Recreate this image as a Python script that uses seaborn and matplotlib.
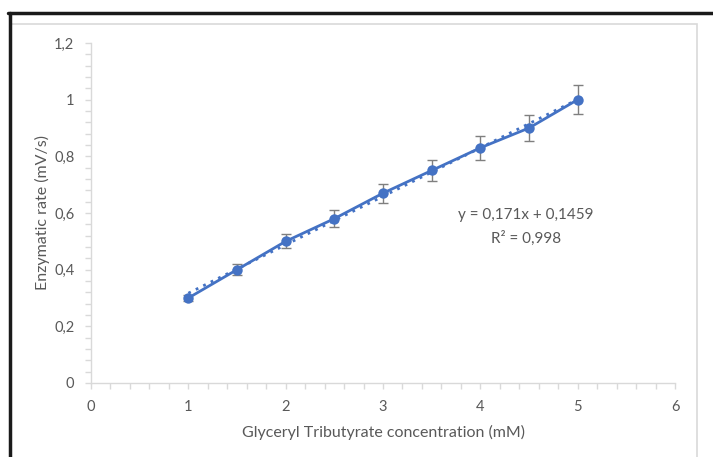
import numpy as np
import pandas as pd
import matplotlib
matplotlib.use("Agg")
import matplotlib.pyplot as plt
import seaborn as sns
from matplotlib.ticker import MultipleLocator, FuncFormatter
from matplotlib.lines import Line2D
from matplotlib.patches import Rectangle

# ---- data ----
concentration = [1, 1.5, 2, 2.5, 3, 3.5, 4, 4.5, 5]
rate = [0.30, 0.40, 0.50, 0.58, 0.67, 0.75, 0.83, 0.90, 1.00]
rate_err = [0.010, 0.020, 0.025, 0.029, 0.034, 0.037, 0.042, 0.045, 0.050]
equation_text = "y = 0,171x + 0,1459"
r2_text = "R² = 0,998"
x_label = "Glyceryl Tributyrate concentration (mM)"
y_label = "Enzymatic rate (mV/s)"

df = pd.DataFrame({"conc": concentration, "rate": rate, "err": rate_err})

sns.set_theme(style="white")
plt.rcParams["font.family"] = ["Lato", "DejaVu Sans"]

blue = "#4472C4"
grey_text = "#595959"
axis_grey = "#d9d9d9"

fig = plt.figure(figsize=(7.13, 4.57), dpi=100)
ax = fig.add_axes([91/713, 1-383/457, (675-91)/713, (383-43)/457])

# error bars
ax.errorbar(df["conc"], df["rate"], yerr=df["err"], fmt="none",
            ecolor="#7f7f7f", elinewidth=1.0, capsize=3.5, capthick=1.0, zorder=2)
# dotted linear trendline
sns.regplot(data=df, x="conc", y="rate", scatter=False, ci=None, ax=ax,
            line_kws=dict(color=blue, linestyle=(0, (1, 2)), linewidth=2.0, zorder=3))
# main line with markers
sns.lineplot(data=df, x="conc", y="rate", ax=ax, color=blue, linewidth=2.0,
             marker="o", markersize=7.5, markeredgewidth=0, zorder=4)

ax.set_xlim(0, 6)
ax.set_ylim(0, 1.2)
ax.xaxis.set_major_locator(MultipleLocator(1))
ax.xaxis.set_minor_locator(MultipleLocator(0.2))
ax.yaxis.set_major_locator(MultipleLocator(0.2))
ax.yaxis.set_minor_locator(MultipleLocator(0.04))

def comma_fmt(v, pos):
    s = f"{v:.1f}".rstrip("0").rstrip(".")
    return s.replace(".", ",")
ax.yaxis.set_major_formatter(FuncFormatter(comma_fmt))
ax.xaxis.set_major_formatter(FuncFormatter(lambda v, p: f"{int(round(v))}"))

for s in ["top", "right"]:
    ax.spines[s].set_visible(False)
for s in ["left", "bottom"]:
    ax.spines[s].set_color(axis_grey)
    ax.spines[s].set_linewidth(1.0)

ax.tick_params(axis="both", which="both", direction="out", length=4,
               width=1.0, color=axis_grey, labelcolor=grey_text, labelsize=10.5)
ax.tick_params(axis="x", which="major", pad=8)
ax.tick_params(axis="y", which="major", pad=8)
ax.tick_params(left=True, bottom=True, which="both")

ax.set_xlabel(x_label, color=grey_text, fontsize=11.5, labelpad=8)
ax.set_ylabel(y_label, color=grey_text, fontsize=11.5, labelpad=3)

ax.text(4.47, 0.593, equation_text, color=grey_text, fontsize=11,
        ha="center", va="center")
ax.text(4.47, 0.512, r2_text, color=grey_text, fontsize=11,
        ha="center", va="center")

# chart area grey frame and black outer border
fig.patches.append(Rectangle((10/713, -0.01), (697-10)/713, 1-23.5/457 + 0.01,
                             transform=fig.transFigure, fill=False,
                             edgecolor="#d9d9d9", linewidth=1.2))
fig.lines.append(Line2D([8/713, 1], [1-13/457, 1-13/457], transform=fig.transFigure,
                        color="#1a1a1a", linewidth=2.5))
fig.lines.append(Line2D([9.5/713, 9.5/713], [0, 1-13/457], transform=fig.transFigure,
                        color="#1a1a1a", linewidth=2.5))

fig.savefig("out.png", dpi=100)
